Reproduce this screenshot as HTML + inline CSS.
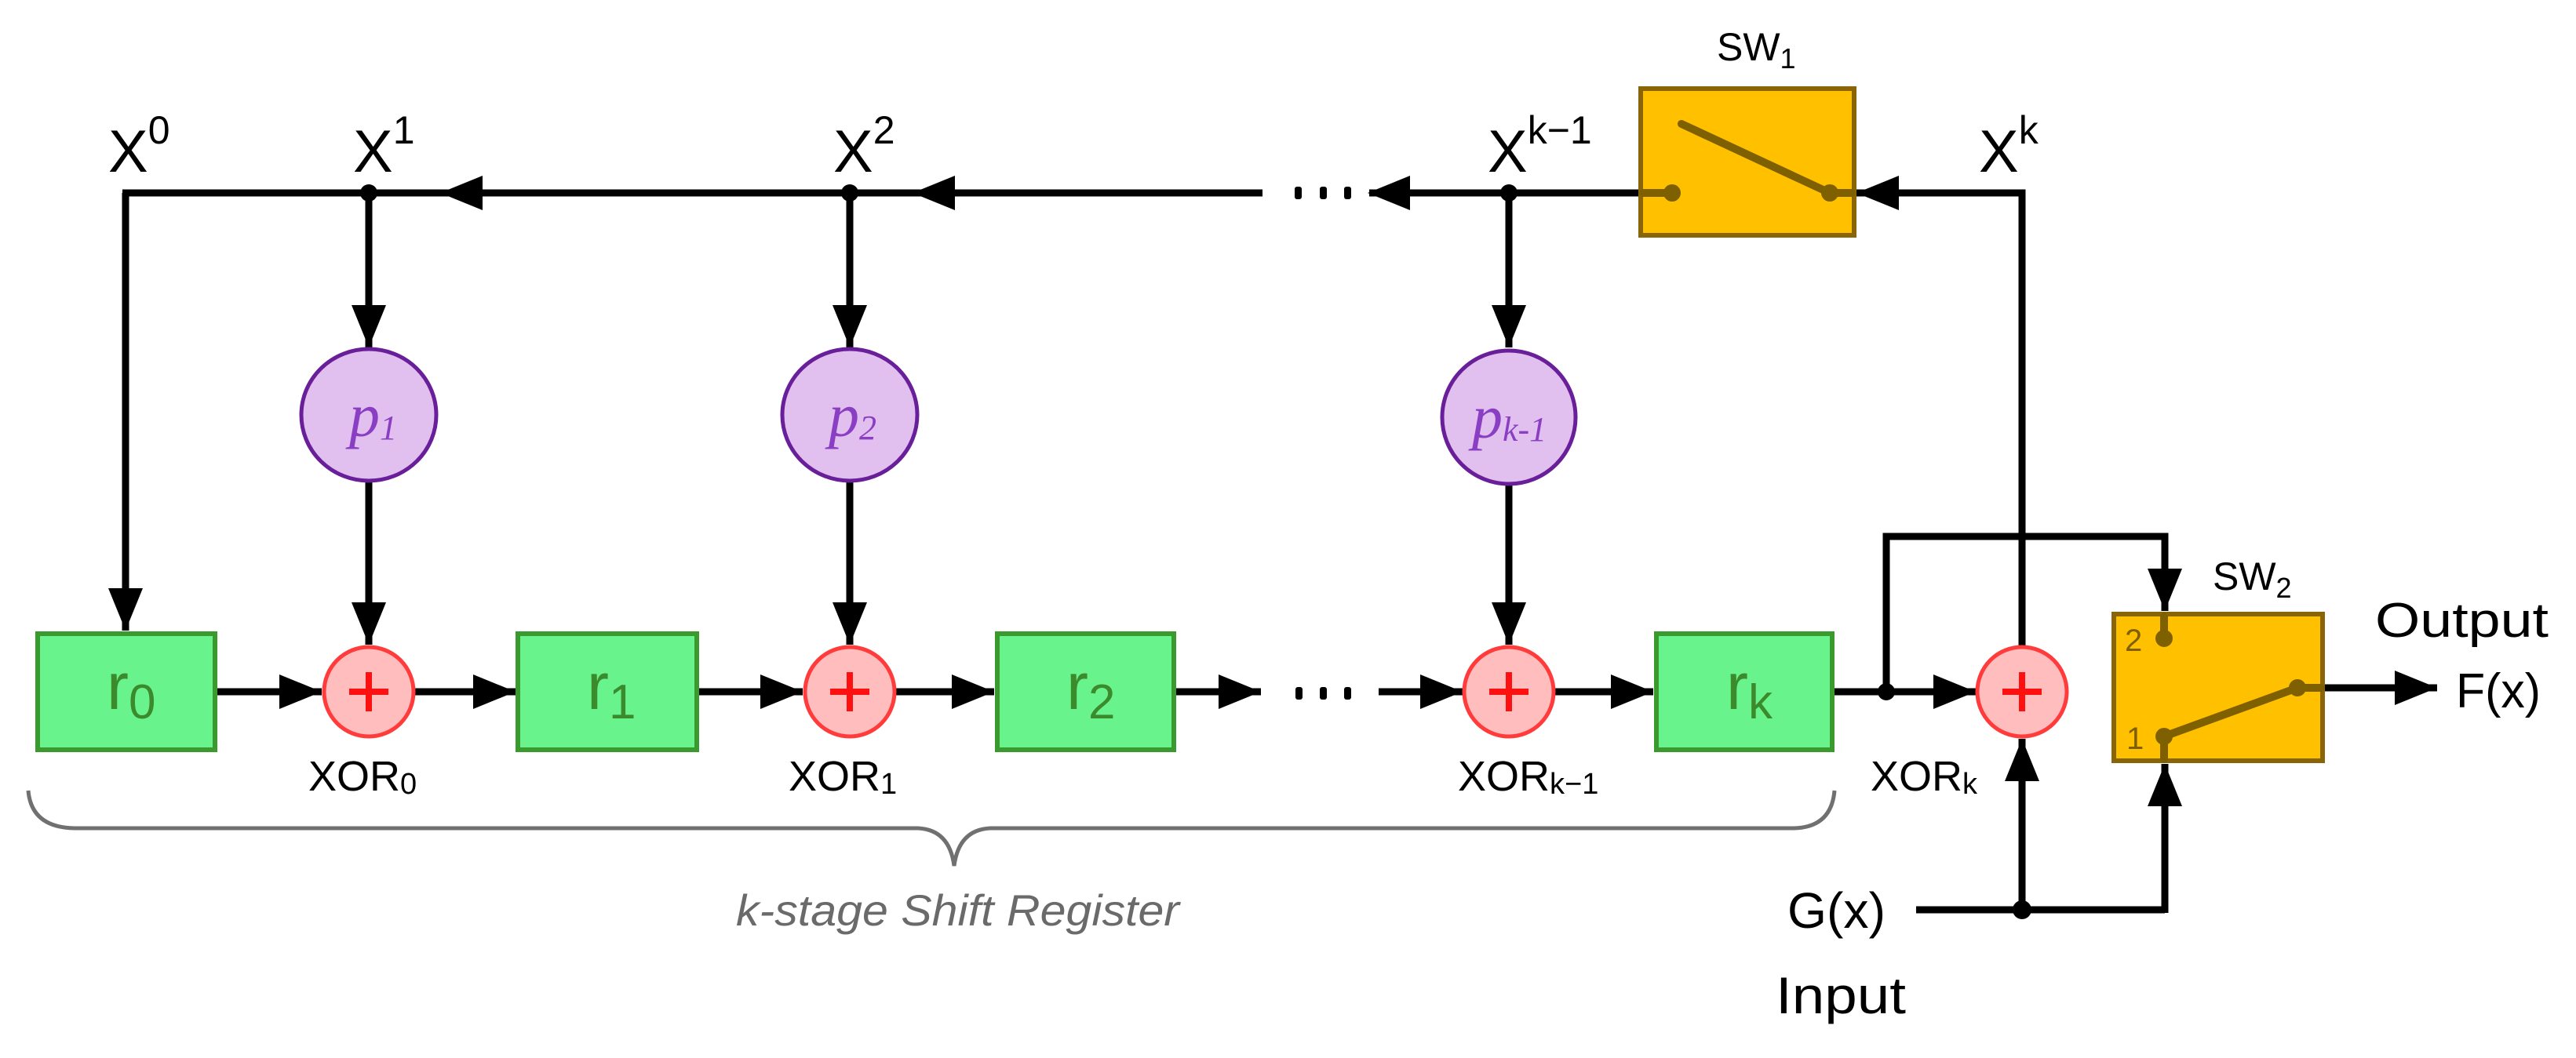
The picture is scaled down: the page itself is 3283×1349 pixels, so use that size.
<!DOCTYPE html>
<html><head><meta charset="utf-8"><style>html,body{margin:0;padding:0;background:#fff}svg{display:block}</style></head>
<body>
<svg width="3283" height="1349" viewBox="0 0 3283 1349" xmlns="http://www.w3.org/2000/svg" font-family="'Liberation Sans', sans-serif">
<defs>
<marker id="a" markerUnits="userSpaceOnUse" markerWidth="60" markerHeight="50" refX="54" refY="22" orient="auto"><path d="M0,0 L54,22 L0,44 Z" fill="#000"/></marker>
</defs>
<g stroke="#000" stroke-width="9" fill="none">
<!-- top bus -->
<line x1="156" y1="246" x2="1609" y2="246"/>
<line x1="1745" y1="246" x2="2090" y2="246"/>
<line x1="160" y1="246" x2="160" y2="804" marker-end="url(#a)"/>
<!-- vertical taps -->
<line x1="470" y1="246" x2="470" y2="443" marker-end="url(#a)"/>
<line x1="470" y1="613" x2="470" y2="822" marker-end="url(#a)"/>
<line x1="1083" y1="246" x2="1083" y2="443" marker-end="url(#a)"/>
<line x1="1083" y1="613" x2="1083" y2="822" marker-end="url(#a)"/>
<line x1="1923" y1="246" x2="1923" y2="443" marker-end="url(#a)"/>
<line x1="1923" y1="613" x2="1923" y2="822" marker-end="url(#a)"/>
<!-- bottom chain -->
<line x1="268" y1="882" x2="410" y2="882" marker-end="url(#a)"/>
<line x1="528" y1="882" x2="657" y2="882" marker-end="url(#a)"/>
<line x1="890" y1="882" x2="1023" y2="882" marker-end="url(#a)"/>
<line x1="1141" y1="882" x2="1267" y2="882" marker-end="url(#a)"/>
<line x1="1497" y1="882" x2="1607" y2="882" marker-end="url(#a)"/>
<line x1="1757" y1="882" x2="1864" y2="882" marker-end="url(#a)"/>
<line x1="1981" y1="882" x2="2107" y2="882" marker-end="url(#a)"/>
<line x1="2336" y1="882" x2="2518" y2="882" marker-end="url(#a)"/>
<!-- feedback from rk to SW2 -->
<polyline points="2404,882 2404,684 2759,684 2759,779" marker-end="url(#a)"/>
<!-- Xk line -->
<polyline points="2577,824 2577,246 2366,246" marker-end="url(#a)"/>
<!-- G(x) -->
<line x1="2442" y1="1160" x2="2759" y2="1160"/>
<line x1="2577" y1="1160" x2="2577" y2="942" marker-end="url(#a)"/>
<line x1="2759" y1="1164" x2="2759" y2="974" marker-end="url(#a)"/>
<!-- output -->
<line x1="2962" y1="877" x2="3106" y2="877" marker-end="url(#a)"/>
</g>
<!-- top arrowheads on bus -->
<path d="M561,246 L615,224 L615,268 Z M1163,246 L1217,224 L1217,268 Z M1743,246 L1797,224 L1797,268 Z" fill="#000"/>
<!-- dots -->
<g fill="#000">
<circle cx="470" cy="246" r="11"/><circle cx="1083" cy="246" r="11"/><circle cx="1923" cy="246" r="11"/>
<circle cx="2404" cy="882" r="11"/><circle cx="2577" cy="1160" r="12"/>
<rect x="1650" y="238" width="9" height="16" rx="3"/><rect x="1682" y="238" width="9" height="16" rx="3"/><rect x="1713" y="238" width="9" height="16" rx="3"/>
<rect x="1651" y="876" width="9" height="16" rx="3"/><rect x="1682" y="876" width="9" height="16" rx="3"/><rect x="1713" y="876" width="9" height="16" rx="3"/>
</g>
<!-- p ellipses -->
<g fill="#e1bfee" stroke="#6a1f9a" stroke-width="5">
<ellipse cx="470" cy="529" rx="86" ry="84"/>
<ellipse cx="1083" cy="529" rx="86" ry="84"/>
<ellipse cx="1923" cy="532" rx="85" ry="85"/>
</g>
<g font-family="'Liberation Serif', serif" font-style="italic" fill="#8a3ec4">
<text x="445" y="556" font-size="78">p<tspan font-size="44" dy="4">1</tspan></text>
<text x="1056" y="556" font-size="78">p<tspan font-size="44" dy="4">2</tspan></text>
<text x="1876" y="558" font-size="78">p<tspan font-size="44" dy="4">k-1</tspan></text>
</g>
<!-- XOR circles -->
<g fill="#ffbdbd" stroke="#ff3b3b" stroke-width="5">
<circle cx="470" cy="882" r="57"/><circle cx="1083" cy="882" r="57"/><circle cx="1923" cy="882" r="57"/><circle cx="2577" cy="882" r="57"/>
</g>
<g stroke="#ff1010" stroke-width="8">
<path d="M445,882 H495 M470,857 V907"/><path d="M1058,882 H1108 M1083,857 V907"/><path d="M1898,882 H1948 M1923,857 V907"/><path d="M2552,882 H2602 M2577,857 V907"/>
</g>
<!-- r boxes -->
<g fill="#69f38d" stroke="#3a9a2e" stroke-width="6">
<rect x="48" y="808" width="226" height="148"/>
<rect x="660" y="808" width="228" height="148"/>
<rect x="1271" y="808" width="225" height="148"/>
<rect x="2111" y="808" width="224" height="148"/>
</g>
<g fill="#3b8a2c" font-size="84">
<text x="136" y="904">r<tspan font-size="62" dy="12">0</tspan></text>
<text x="748" y="904">r<tspan font-size="62" dy="12">1</tspan></text>
<text x="1359" y="904">r<tspan font-size="62" dy="12">2</tspan></text>
<text x="2200" y="904">r<tspan font-size="62" dy="12">k</tspan></text>
</g>
<!-- switches -->
<rect x="2091" y="113" width="272" height="187" fill="#ffc000" stroke="#8a6508" stroke-width="6"/>
<g stroke="#7f6000" stroke-width="10" fill="#7f6000" stroke-linecap="round">
<line x1="2094" y1="246" x2="2131" y2="246"/><line x1="2332" y1="246" x2="2360" y2="246"/>
<line x1="2143" y1="158" x2="2332" y2="246"/>
<circle cx="2131" cy="246" r="9" stroke-width="4"/><circle cx="2332" cy="246" r="9" stroke-width="4"/>
</g>
<rect x="2694" y="783" width="266" height="187" fill="#ffc000" stroke="#8a6508" stroke-width="6"/>
<g stroke="#7f6000" stroke-width="10" fill="#7f6000" stroke-linecap="round">
<line x1="2758" y1="786" x2="2758" y2="814"/><line x1="2758" y1="939" x2="2758" y2="968"/>
<line x1="2928" y1="877" x2="2958" y2="877"/>
<line x1="2758" y1="939" x2="2928" y2="877"/>
<circle cx="2758" cy="814" r="9" stroke-width="4"/><circle cx="2758" cy="939" r="9" stroke-width="4"/><circle cx="2928" cy="877" r="9" stroke-width="4"/>
</g>
<g fill="#7f6000" font-size="40"><text x="2708" y="830">2</text><text x="2710" y="955">1</text></g>
<!-- brace -->
<path d="M36,1008 Q40,1055 95,1056 L1170,1056 Q1210,1058 1216,1104 Q1222,1058 1262,1056 L2286,1056 Q2334,1055 2338,1008" fill="none" stroke="#707070" stroke-width="5"/>
<text x="938" y="1180" font-size="56" font-style="italic" fill="#6a6a6a" textLength="565" lengthAdjust="spacingAndGlyphs">k-stage Shift Register</text>
<!-- labels -->
<g fill="#000">
<text x="138" y="219" font-size="76">X<tspan font-size="50" dy="-36">0</tspan></text>
<text x="450" y="219" font-size="76">X<tspan font-size="50" dy="-36">1</tspan></text>
<text x="1062" y="219" font-size="76">X<tspan font-size="50" dy="-36">2</tspan></text>
<text x="1896" y="219" font-size="76">X<tspan font-size="50" dy="-36">k−1</tspan></text>
<text x="2522" y="219" font-size="76">X<tspan font-size="50" dy="-36">k</tspan></text>
<text x="2188" y="77" font-size="50">SW<tspan font-size="36" dy="10">1</tspan></text>
<text x="2820" y="752" font-size="50">SW<tspan font-size="36" dy="10">2</tspan></text>
<text x="393" y="1008" font-size="54">XOR<tspan font-size="38" dy="4">0</tspan></text>
<text x="1005" y="1008" font-size="54">XOR<tspan font-size="38" dy="4">1</tspan></text>
<text x="1858" y="1008" font-size="54">XOR<tspan font-size="38" dy="4">k−1</tspan></text>
<text x="2384" y="1008" font-size="54">XOR<tspan font-size="38" dy="4">k</tspan></text>
<text x="3027" y="812" font-size="62" textLength="221" lengthAdjust="spacingAndGlyphs">Output</text>
<text x="3130" y="902" font-size="62" textLength="108" lengthAdjust="spacingAndGlyphs">F(x)</text>
<text x="2278" y="1183" font-size="64" textLength="125" lengthAdjust="spacingAndGlyphs">G(x)</text>
<text x="2263" y="1292" font-size="66" textLength="166" lengthAdjust="spacingAndGlyphs">Input</text>
</g>
</svg>
</body></html>
